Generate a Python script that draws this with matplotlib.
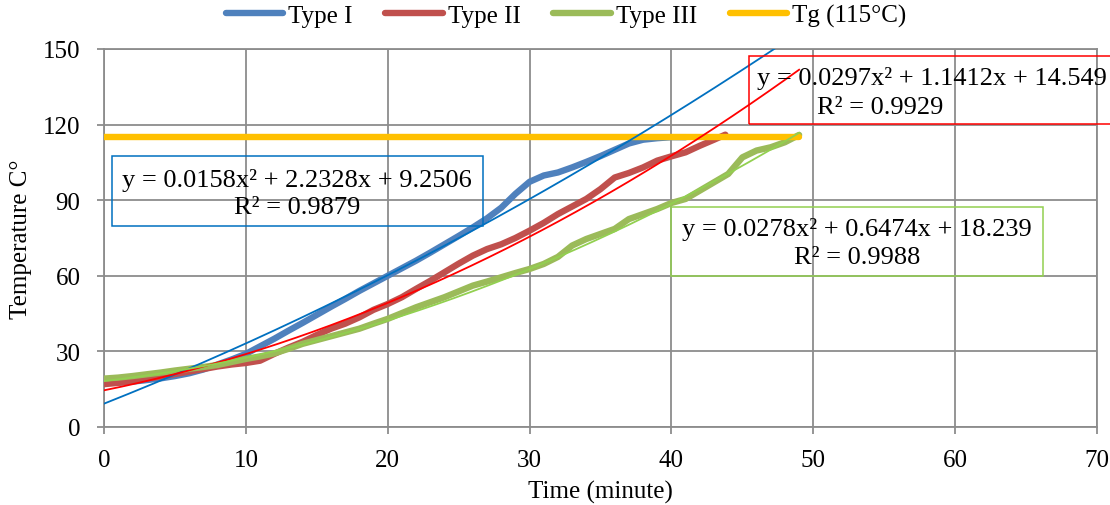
import numpy as np
import matplotlib.pyplot as plt
from matplotlib.patches import Rectangle

plt.rcParams.update({
    "font.family": ["Liberation Serif", "DejaVu Serif"],
    "font.size": 18,
})

# Type I
t1 = [0, 1, 2, 3, 4, 5, 6, 7, 8, 9, 10, 11, 12, 13, 14, 15, 16, 17, 18, 19, 20,
      21, 22, 23, 24, 25, 26, 27, 28, 29, 30, 31, 32, 33, 34, 35, 36, 37, 38, 39, 40, 41]
v1 = [17.5, 17.6, 18.0, 18.6, 19.3, 20.2, 21.3, 22.8, 24.8, 26.8, 29.0, 32.0, 35.0, 38.2,
      41.3, 44.5, 47.7, 50.8, 54.0, 57.0, 60.0, 63.0, 66.0, 69.2, 72.5, 75.8, 79.2, 82.8,
      87.0, 92.5, 97.3, 99.8, 101.0, 103.0, 105.2, 107.5, 110.0, 112.5, 114.0, 114.6, 115.0, 115.0]

# Type II
t2 = [0, 1, 2, 3, 4, 5, 6, 7, 8, 9, 10, 11, 12, 13, 14, 15, 16, 17, 18, 19, 20,
      21, 22, 23, 24, 25, 26, 27, 28, 29, 30, 31, 32, 33, 34, 35, 36, 37, 38, 39, 40,
      41, 42, 43, 43.8]
v2 = [17.0, 17.5, 18.3, 19.2, 20.0, 21.0, 22.0, 23.0, 24.0, 24.8, 25.4, 26.3, 29.0, 31.5,
      33.8, 36.5, 39.0, 41.0, 43.5, 46.5, 48.8, 51.5, 54.8, 58.0, 61.4, 64.8, 68.0, 70.6,
      72.5, 75.0, 77.9, 81.0, 84.5, 87.5, 90.5, 94.4, 99.0, 100.8, 103.0, 105.7, 107.4,
      109.0, 111.6, 114.0, 116.0]

# Type III
t3 = list(range(0, 50))
v3 = [19.2, 19.6, 20.2, 20.9, 21.6, 22.4, 23.1, 23.8, 24.6, 25.8, 27.0, 28.0, 29.2, 31.0,
      33.0, 34.5, 36.0, 37.5, 39.0, 41.0, 42.9, 45.2, 47.5, 49.5, 51.5, 53.8, 56.1, 57.7,
      59.4, 61.1, 62.7, 64.7, 67.5, 72.0, 74.6, 76.6, 78.6, 82.5, 84.5, 86.5, 88.9, 90.5,
      93.8, 97.1, 100.4, 107.0, 109.7, 111.0, 113.0, 115.9]

# Tg line
tg_t = [0, 49]
tg_v = [115, 115]

# polynomial trendlines (a, b, c) and their R²
fit1 = (0.0158, 2.2328, 9.2506)
fit2 = (0.0297, 1.1412, 14.549)
fit3 = (0.0278, 0.6474, 18.239)
r2 = [0.9879, 0.9929, 0.9988]
fit_end = 49

fig = plt.figure(figsize=(11.1, 5.06), dpi=100)
ax = fig.add_axes([0.0937, 0.1542, 0.8946, 0.747])

c1, c2, c3, cy = "#4F81BD", "#C0504D", "#9BBB59", "#FFC000"
ax.plot(t1, v1, color=c1, lw=4.6, label="Type I", solid_capstyle="round", zorder=3)
ax.plot(t2, v2, color=c2, lw=4.6, label="Type II", solid_capstyle="round", zorder=3)
ax.plot(t3, v3, color=c3, lw=4.6, label="Type III", solid_capstyle="round", zorder=3)
ax.plot(tg_t, tg_v, color=cy, lw=4.6, label="Tg (115°C)", solid_capstyle="round", zorder=4)

xs = np.linspace(0, fit_end, 200)
for fit, col in [(fit1, "#0070C0"), (fit2, "#FF0000"), (fit3, "#92D050")]:
    ax.plot(xs, np.polyval(fit, xs), color=col, lw=1.3, zorder=5)

ax.set_xlim(0, 70)
ax.set_ylim(0, 150)
ax.set_xticks(range(0, 71, 10))
ax.set_yticks(range(0, 151, 30))
ax.grid(True, color="#8C8C8C", lw=1.3)
ax.set_axisbelow(True)
for s in ax.spines.values():
    s.set_color("#8C8C8C")
    s.set_linewidth(1.3)
ax.tick_params(axis="both", color="#8C8C8C", width=1.3, length=5)
ax.tick_params(axis="x", pad=11)
ax.tick_params(axis="y", pad=12)
ax.set_xlabel("Time (minute)", labelpad=6)
ax.set_ylabel("Temperature C°", labelpad=8)


def eq(fit):
    return "y = {}x² + {}x + {}".format(*fit)


# equation boxes
eqfs = 19
ax.add_patch(Rectangle((0.56, 79.8), 26.14, 27.7, fill=False, ec="#0070C0", lw=1.1, clip_on=False, zorder=6))
ax.text(13.6, 98.4, eq(fit1), ha="center", va="center", fontsize=eqfs, zorder=7)
ax.text(13.6, 87.3, "R² = {}".format(r2[0]), ha="center", va="center", fontsize=eqfs, zorder=7)

ax.add_patch(Rectangle((45.45, 120.2), 27, 27, fill=False, ec="#FF0000", lw=1.1, clip_on=False, zorder=6))
ax.text(46.0, 138.5, eq(fit2), ha="left", va="center", fontsize=eqfs, zorder=7)
ax.text(54.7, 127.0, "R² = {}".format(r2[1]), ha="center", va="center", fontsize=eqfs, zorder=7)

ax.add_patch(Rectangle((40.0, 59.9), 26.2, 27.4, fill=False, ec="#92D050", lw=1.1, clip_on=False, zorder=6))
ax.text(53.1, 78.6, eq(fit3), ha="center", va="center", fontsize=eqfs, zorder=7)
ax.text(53.1, 67.5, "R² = {}".format(r2[2]), ha="center", va="center", fontsize=eqfs, zorder=7)

fig.legend(loc="center", bbox_to_anchor=(0.51, 0.967), ncol=4, frameon=False,
           handlelength=2.3, handletextpad=0.2, columnspacing=1.3, borderaxespad=0)

fig.savefig("out.png", dpi=100)
